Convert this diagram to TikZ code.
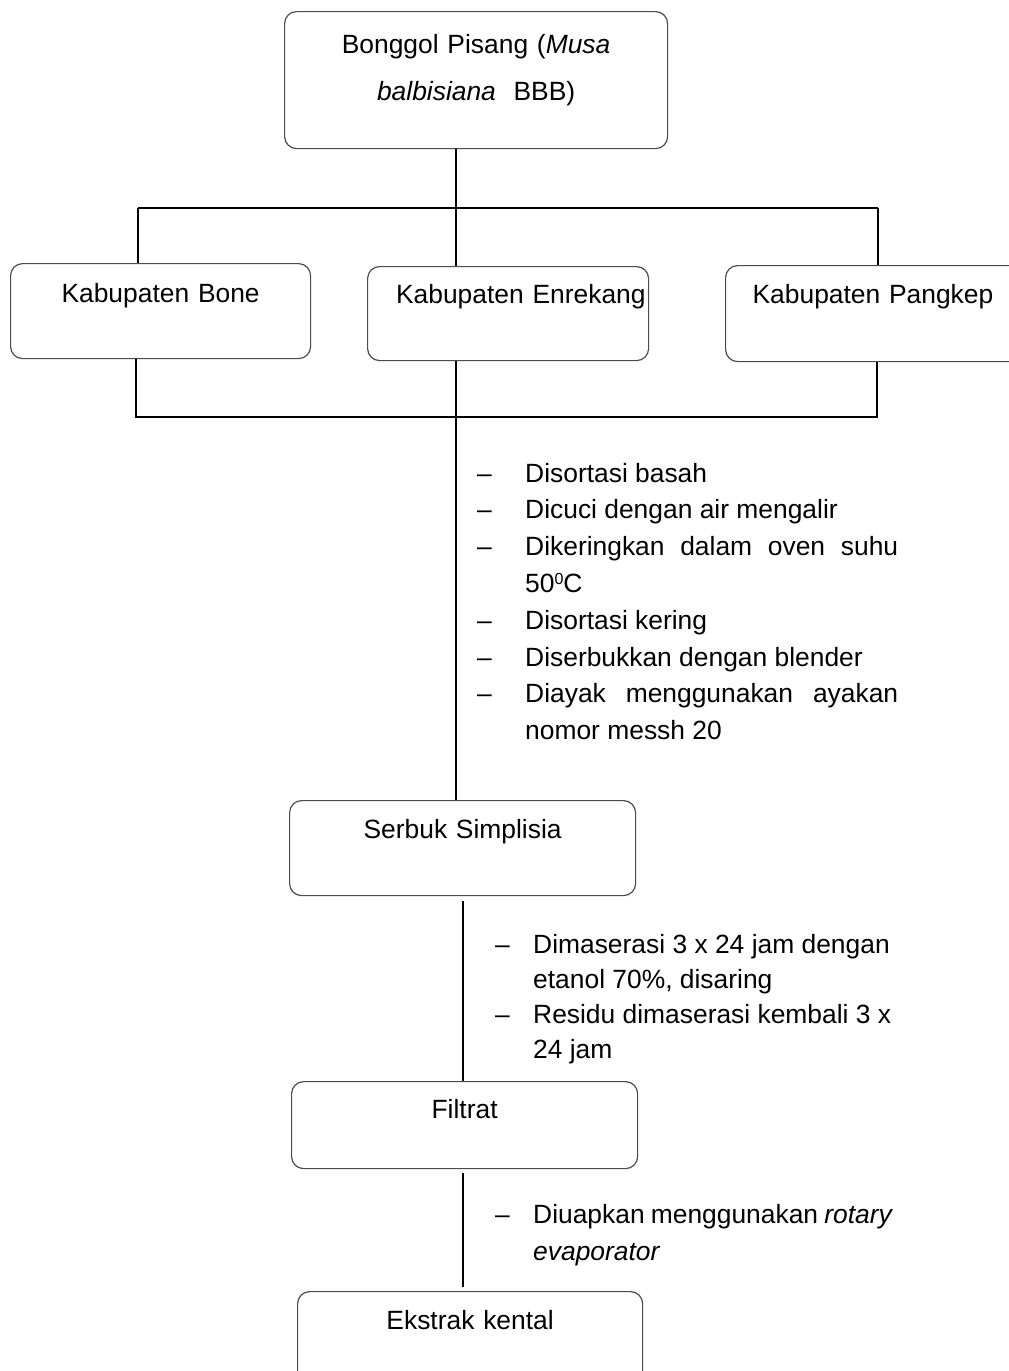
\documentclass[tikz,border=0pt]{standalone}
\usepackage{fontspec}
\setmainfont{Liberation Sans}
\usepackage{array}
\usetikzlibrary{positioning,calc}

\begin{document}
\begin{tikzpicture}[
  x=1pt, y=-1pt,
  font=\fontsize{26.4}{36.8}\selectfont,
  box/.style={draw=black!70, line width=1.2pt, rounded corners=12pt, anchor=north west, inner xsep=0pt, inner ysep=0pt, align=center},
  steps/.style={anchor=base west, inner sep=0pt},
  link/.style={line width=2pt, black}
]
\useasboundingbox (0,0) rectangle (1009,1371);
\fill[white] (0,0) rectangle (1009,1371);

% bahan
\node[box, font=\fontsize{26.4}{47}\selectfont, text width=383pt, text height=42pt, text depth=95pt] (bonggol) at (284,11) {Bonggol Pisang (\textit{Musa}\\ \textit{balbisiana}\ \ BBB)};

% lokasi
\node[box, text width=300pt, text height=39pt, text depth=56pt] (bone) at (10,263) {Kabupaten Bone};
\node[box, minimum width=281pt, text width=275pt, align=right, text height=37pt, text depth=57pt] (enrekang) at (367,266) {Kabupaten Enrekang};
\node[box, inner xsep=27pt, text width=300pt, align=left, text height=38pt, text depth=58pt] (pangkep) at (725,265) {Kabupaten Pangkep};

% simplisia
\node[steps] (proses) at (477,482) {\begin{tabular}[t]{@{}p{48pt}@{}p{373pt}@{}}
  -- & Disortasi basah\\
  -- & Dicuci dengan air mengalir\\
  -- & Dikeringkan dalam oven suhu\linebreak 50\raisebox{8pt}{\fontsize{16}{16}\selectfont 0}C\\
  -- & Disortasi kering\\
  -- & Diserbukkan dengan blender\\
  -- & Diayak menggunakan ayakan\linebreak nomor messh 20
\end{tabular}};
\node[box, text width=346pt, text height=38pt, text depth=57pt] (serbuk) at (289,800) {Serbuk Simplisia};

% ekstraksi
\node[steps] (maserasi) at (495,953) {\fontsize{26.4}{35}\selectfont\begin{tabular}[t]{@{}p{38pt}@{}p{360pt}@{}}
  -- & Dimaserasi 3 x 24 jam dengan\newline etanol 70\%, disaring\\
  -- & Residu dimaserasi kembali 3 x\newline 24 jam
\end{tabular}};
\node[box, text width=346pt, text height=37pt, text depth=50pt] (filtrat) at (291,1081) {Filtrat};
\node[steps] (uap) at (495,1223) {\fontsize{26.4}{37}\selectfont\begin{tabular}[t]{@{}p{38pt}@{}p{360pt}@{}}
  -- & Diuapkan menggunakan \textit{rotary}\newline \textit{evaporator}
\end{tabular}};
\node[box, text width=345pt, text height=38pt, text depth=57pt] (ekstrak) at (297,1291) {Ekstrak kental};

\coordinate (topL) at (138,208);
\coordinate (topM) at (456,208);
\coordinate (topR) at (878,208);
\coordinate (botL) at (136,417);
\coordinate (botR) at (877,417);

\draw[link] (bonggol.south -| topM) -- (topM);
\draw[link] (topL) -- (topR);
\draw[link] (topL) -- (topL |- bone.north);
\draw[link] (topM) -- (topM |- enrekang.north);
\draw[link] (topR) -- (topR |- pangkep.north);
\draw[link] (bone.south -| botL) -- (botL) -- (botR) -- (pangkep.south -| botR);
\draw[link] (enrekang.south -| topM) -- (serbuk.north -| topM);
\draw[link, shorten <=5pt] (serbuk.south) -- (serbuk.south |- filtrat.north);
\draw[link, shorten <=4pt, shorten >=4pt] (serbuk.south |- filtrat.south) -- (serbuk.south |- ekstrak.north);
\end{tikzpicture}
\end{document}
